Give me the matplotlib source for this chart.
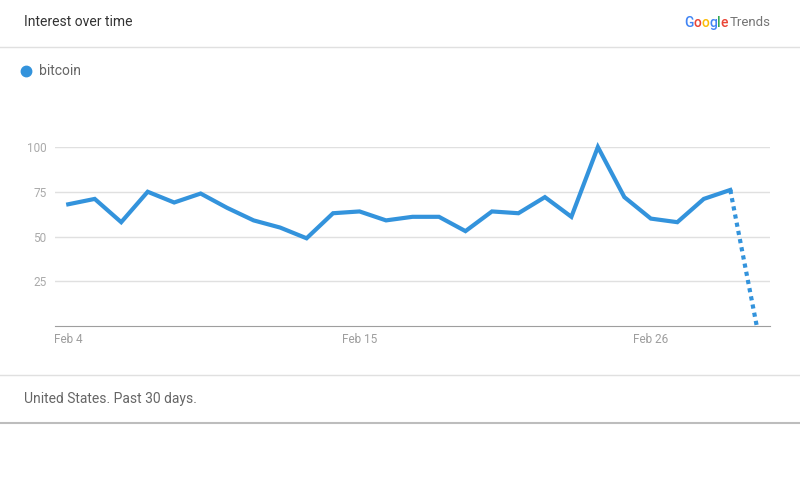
import matplotlib
matplotlib.use("Agg")
import matplotlib.pyplot as plt
from matplotlib.lines import Line2D

plt.rcParams['font.family'] = ['Roboto', 'DejaVu Sans']

# data (Feb 4 .. Mar 2)
days = list(range(27))
interest = [68, 71, 58, 75, 69, 74, 66, 59, 55, 49, 63, 64, 59, 61, 61,
            53, 64, 63, 72, 61, 100, 72, 60, 58, 71, 76, 0]
tick_pos = [0, 11, 22]
tick_lbl = ["Feb 4", "Feb 15", "Feb 26"]
y_ticks = [25, 50, 75, 100]
series_name = "bitcoin"

blue = "#3393dc"
W, H = 800, 500

fig = plt.figure(figsize=(8, 5), dpi=100)
fig.patch.set_facecolor("white")

def fx(px):
    return px / W

def fy(py):
    return 1 - py / H

# header / footer separators
for yy, col, lw in [(47, "#e0e0e0", 1.0), (375, "#e0e0e0", 1.0), (423, "#bdbdbd", 1.5)]:
    fig.add_artist(Line2D([0, 1], [fy(yy), fy(yy)], color=col, lw=lw))

fig.text(fx(24), fy(22), "Interest over time", fontsize=10, color="#333333",
         va="center", ha="left")
fig.text(fx(24), fy(399), "United States. Past 30 days.", fontsize=10,
         color="#666666", va="center", ha="left")

# legend
fig.add_artist(Line2D([fx(26)], [fy(71)], marker="o", ms=7.5, color=blue, lw=0))
fig.text(fx(39), fy(71), series_name, fontsize=10, color="#666666",
         va="center", ha="left")

# Google Trends logo, letter by letter
renderer = fig.canvas.get_renderer()
x = 684
for ch, col in zip("Google", ["#4285F4", "#EA4335", "#FBBC05", "#4285F4", "#34A853", "#EA4335"]):
    t = fig.text(fx(x), fy(23), ch, fontsize=10, color=col, va="center",
                 ha="left", fontweight="medium")
    x += t.get_window_extent(renderer).width
fig.text(fx(x + 2), fy(23), "Trends", fontsize=9.5, color="#757575",
         va="center", ha="left")

# chart
ax = fig.add_axes([fx(55), fy(326), fx(770) - fx(55), (326 - 147) / H])
ax.plot(days[:-1], interest[:-1], color=blue, lw=3, solid_joinstyle="miter",
        clip_on=False, zorder=3)
ax.plot(days[-2:], interest[-2:], color=blue, lw=3, ls=(0, (1, 1)),
        clip_on=False, zorder=3)

ax.set_xlim(-0.5, 26.5)
ax.set_ylim(0, 100)
ax.set_yticks(y_ticks)
ax.set_xticks(tick_pos)
ax.set_xticklabels(tick_lbl)
ax.yaxis.grid(True, color="#e0e0e0", lw=1)
ax.set_axisbelow(True)
for s in ["top", "right", "left"]:
    ax.spines[s].set_visible(False)
ax.spines["bottom"].set_color("#9e9e9e")
ax.tick_params(axis="both", length=0, labelsize=8.5)
ax.tick_params(axis="y", pad=6, labelcolor="#aaaaaa")
ax.tick_params(axis="x", pad=5, labelcolor="#9e9e9e")

fig.savefig("out.png", dpi=100, facecolor="white")
